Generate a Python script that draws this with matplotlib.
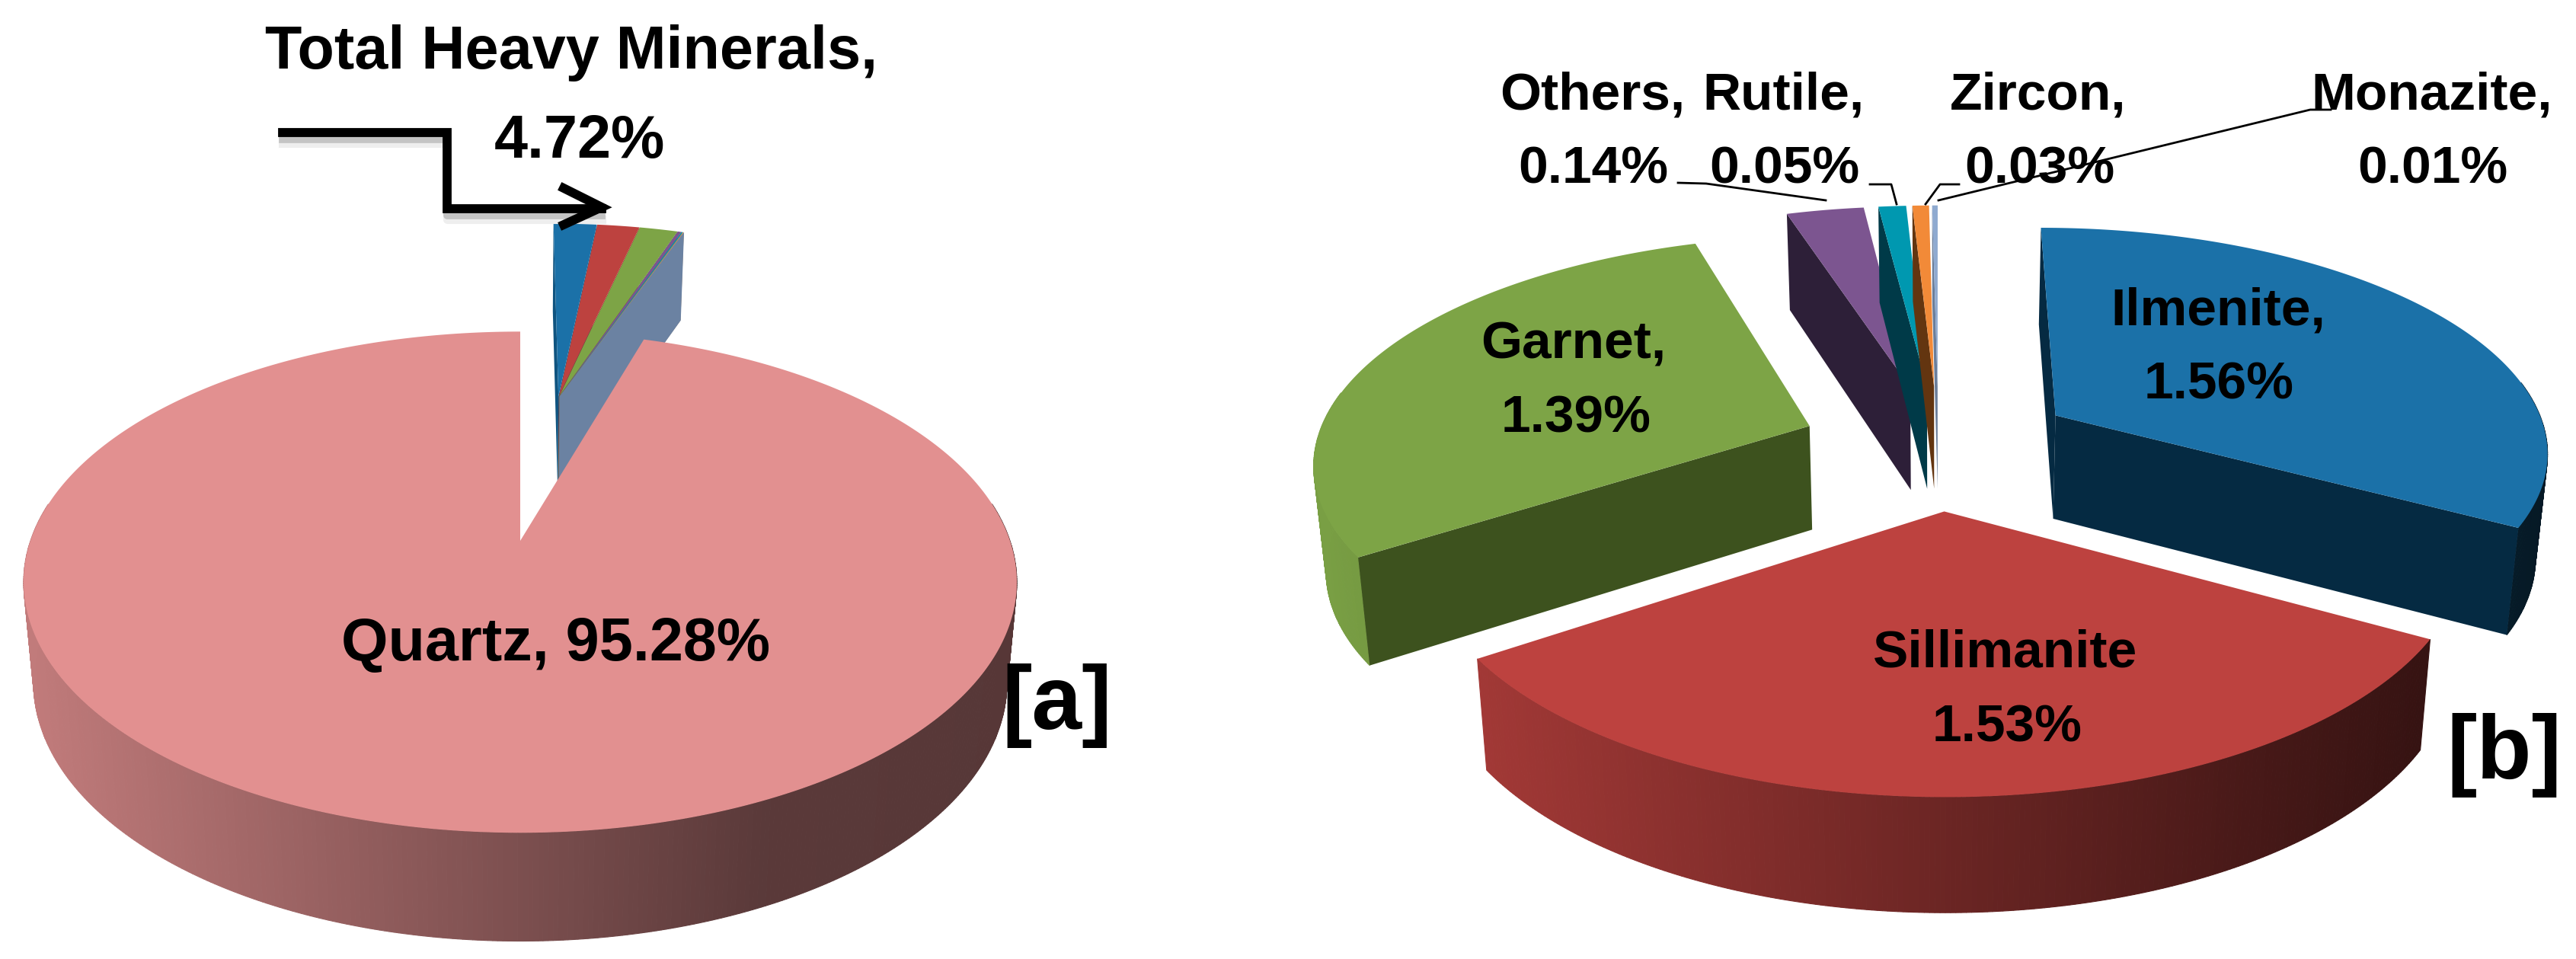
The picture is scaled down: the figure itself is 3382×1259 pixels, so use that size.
import numpy as np
import matplotlib
matplotlib.use('Agg')
from matplotlib import pyplot as plt

plt.rcParams['font.family'] = ['Liberation Sans', 'DejaVu Sans']

# panel a
total_heavy = 4.72
quartz = 95.28
# panel b
minerals = ['Ilmenite', 'Sillimanite', 'Garnet', 'Others', 'Rutile', 'Zircon', 'Monazite']
heavy_values = [1.56, 1.53, 1.39, 0.14, 0.05, 0.03, 0.01]

top_colors = ['#1B71A8', '#BD423F', '#7DA446', '#7C5590', '#0098B0', '#F28A38', '#8FAAD0']
wall_colors_a = ['#0F5480', '#8E2F2D', '#5E7C34', '#5B3F6C', '#00728A', '#B06A2A', '#6B82A2']
wall_colors_b = ['#052A42', '#4C1512', '#3D521E', '#2D1F38', '#003A48', '#633510', '#6B7E9A']

# projection settings of the two pies
view_a = dict(cx=683, cy=710, A=643, B=320, k=0.165, D=130, c=0.02)
view_b = dict(cx=2545, cy=586, A=649, B=293, k=0.145, D=137, c=0.02)


def project(u, v, z, p):
    w = 1 + p['k'] * v
    s = 1 - p['c'] * z
    x = p['cx'] + p['A'] * u / w * s
    y = p['cy'] - p['B'] * v / w + p['D'] * z / np.sqrt(w)
    return x, y


def shade(x, xs, fs, color):
    rgb = np.array(matplotlib.colors.to_rgb(color))
    return tuple(rgb * np.interp(x, xs, fs))


def wedge(ax, start, end, ox, oy, top, wall, p, grad=None, fan=1.0):
    # angles are clockwise from the back of the pie
    deg = np.linspace(start, end, max(int(end - start) * 2, 4)) * fan
    th = np.radians(deg)
    u = ox + np.sin(th)
    v = oy + np.cos(th)
    xt, yt = project(u, v, 0, p)
    xb, yb = project(u, v, 1, p)
    ax0, ay0 = project(ox, oy, 0, p)
    ax1, ay1 = project(ox, oy, 1, p)

    # outer wall, only the part turned to the viewer
    if grad is not None:
        for i in range(len(th) - 1):
            if np.cos(th[i]) > 0.15 and np.cos(th[i + 1]) > 0.15:
                continue
            col = shade((xt[i] + xt[i + 1]) / 2, grad[0], grad[1], top)
            ax.fill([xt[i], xt[i + 1], xb[i + 1], xb[i]], [yt[i], yt[i + 1], yb[i + 1], yb[i]],
                    color=col, lw=0.8, zorder=ax.zz)
    ax.zz += 1

    # the two cut faces, skipped when they look away
    if np.sin(th[0]) <= 0.01:
        ax.fill([ax0, xt[0], xb[0], ax1], [ay0, yt[0], yb[0], ay1], color=wall, lw=0, zorder=ax.zz)
    if -np.sin(th[-1]) <= 0.01:
        ax.fill([ax0, xt[-1], xb[-1], ax1], [ay0, yt[-1], yb[-1], ay1], color=wall, lw=0, zorder=ax.zz)
    ax.zz += 1

    ax.fill(np.r_[ax0, xt], np.r_[ay0, yt], color=top, lw=0, zorder=ax.zz)
    ax.zz += 1


fig = plt.figure(figsize=(33.82, 12.59), dpi=100)
ax = fig.add_axes([0, 0, 1, 1])
ax.set_xlim(0, 3382)
ax.set_ylim(1259, 0)
ax.axis('off')
ax.zz = 1

# panel a: heavy minerals pulled out, quartz in front
deg_a = 360.0 / (total_heavy + quartz)
pos = 0.0
for val, top, wall in zip(heavy_values, top_colors, wall_colors_a):
    a0, a1 = pos, pos + val * deg_a
    mid = np.radians((a0 + a1) / 2)
    wedge(ax, a0, a1, 0.086 + 0.01 * np.sin(mid), 0.657, top, wall, view_a, fan=1.15)
    pos = a1

wedge(ax, total_heavy * deg_a, 360, 0, 0, '#E29090', '#E29090', view_a,
      grad=([22, 1000, 1400], [0.86, 0.40, 0.38]))

# panel b: every slice pulled out by the same amount
explode = 0.28
total = sum(heavy_values)
starts = np.cumsum([0] + heavy_values[:-1]) * 360 / total
ends = np.cumsum(heavy_values) * 360 / total
order = [3, 4, 5, 6, 2, 0, 1]
for i in order:
    mid = np.radians((starts[i] + ends[i]) / 2)
    wedge(ax, starts[i], ends[i], explode * np.sin(mid), explode * np.cos(mid),
          top_colors[i], wall_colors_b[i], view_b,
          grad=([1730, 1950, 3000, 3400], [0.97, 0.85, 0.36, 0.2]))

# arrow of panel a with its soft shadow
arrow_x = np.array([371, 587, 587, 790])
arrow_y = np.array([174, 174, 274, 274])
ax.plot(arrow_x, arrow_y + 14, color='#EEEEEE', lw=8, zorder=79)
ax.plot(arrow_x, arrow_y + 9, color='#C4C4C4', lw=7, zorder=80)
ax.plot(arrow_x, arrow_y, color='black', lw=8.5, solid_joinstyle='miter', zorder=81)
ax.plot([740, 790, 740], [247, 272, 295], color='black', lw=8.5, solid_joinstyle='miter', zorder=81)

# leader lines of panel b
ax.plot([2203, 2240, 2397], [240, 241, 263], color='black', lw=2, zorder=80)
ax.plot([2455, 2483, 2490], [242, 242, 268], color='black', lw=2, zorder=80)
ax.plot([2572, 2547, 2528], [242, 242, 268], color='black', lw=2, zorder=80)
ax.plot([2545, 3033, 3060], [263, 144, 144], color='black', lw=2, zorder=80)

labels_a = [
    ('Total Heavy Minerals,', 750, 90),
    ('4.72%', 761, 207),
    ('Quartz, 95.28%', 730, 867),
]
labels_b = [
    ('Others,', 2091, 143),
    ('0.14%', 2092, 240),
    ('Rutile,', 2341, 143),
    ('0.05%', 2343, 240),
    ('Zircon,', 2676, 143),
    ('0.03%', 2678, 240),
    ('Monazite,', 3193, 143),
    ('0.01%', 3194, 240),
    ('Ilmenite,', 2912, 426),
    ('1.56%', 2913, 523),
    ('Sillimanite', 2633, 875),
    ('1.53%', 2635, 973),
    ('Garnet,', 2066, 470),
    ('1.39%', 2069, 567),
]
for txt, x, y in labels_a:
    ax.text(x, y, txt, ha='center', va='baseline', fontsize=57, fontweight='bold', color='black', zorder=90)
for txt, x, y in labels_b:
    ax.text(x, y, txt, ha='center', va='baseline', fontsize=50, fontweight='bold', color='black', zorder=90)

ax.text(1388, 957, '[a]', ha='center', va='baseline', fontsize=85, fontweight='bold', zorder=90)
ax.text(3288, 1022, '[b]', ha='center', va='baseline', fontsize=85, fontweight='bold', zorder=90)

plt.savefig('out.png', dpi=100, facecolor='white')
